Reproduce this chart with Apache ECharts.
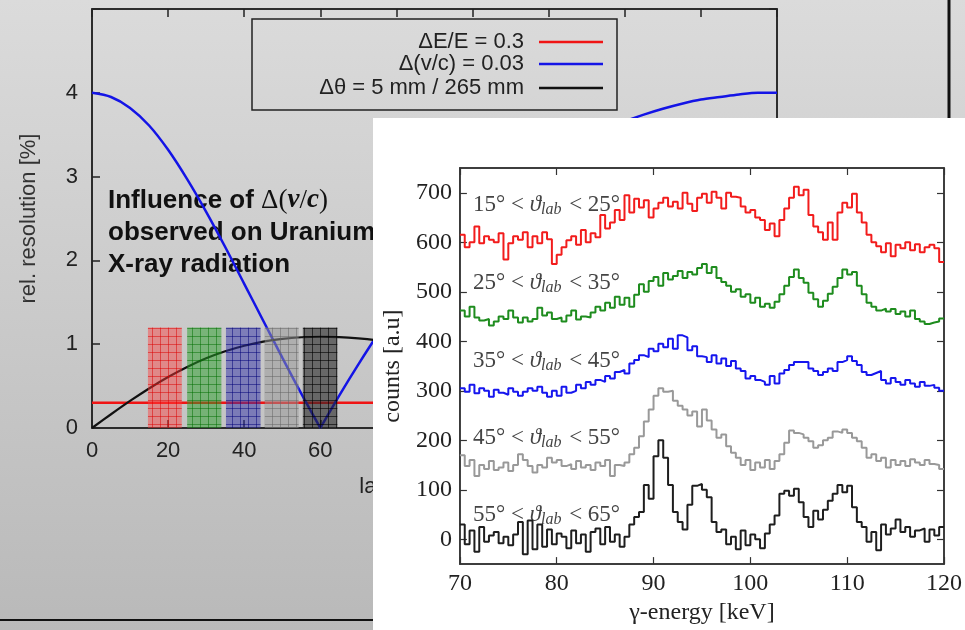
<!DOCTYPE html>
<html>
<head>
<meta charset="utf-8">
<script src="https://cdn.jsdelivr.net/npm/echarts/dist/echarts.min.js"></script>
<style>
    body { margin: 0; }
    #page {
        position: relative;
        width: 965px;
        height: 630px;
        overflow: hidden;
        background: linear-gradient(#dbdbdb, #b9b9b9);
    }
    #ResolutionContainer { position: absolute; left: 0; top: 0; width: 965px; height: 630px; }
    #SpectraContainer { position: absolute; left: 373px; top: 118px; width: 592px; height: 512px; background: #fff; }
</style>
</head>
<body>
<div id="page">
    <div id="ResolutionContainer"></div>
    <div id="SpectraContainer"></div>
</div>
<script>
// ---- resolution vs. lab angle (background plot) ----
var angles = [0, 5, 10, 15, 20, 25, 30, 35, 40, 45, 50, 55, 60, 65, 70, 75, 80, 85, 90,
    95, 100, 105, 110, 115, 120, 125, 130, 135, 140, 145, 150, 155, 160, 165, 170, 175, 180];
var resVelocity = [4.00, 3.95, 3.82, 3.61, 3.32, 2.97, 2.58, 2.16, 1.72, 1.28, 0.84, 0.41, 0.00,
    0.39, 0.76, 1.11, 1.43, 1.73, 2.00, 2.25, 2.48, 2.69, 2.88, 3.05, 3.20, 3.34, 3.46, 3.57,
    3.66, 3.74, 3.81, 3.87, 3.92, 3.95, 3.98, 4.00, 4.00];
var resAngle = [0.000, 0.164, 0.323, 0.472, 0.608, 0.729, 0.832, 0.916, 0.982, 1.031, 1.064, 1.083,
    1.089, 1.084, 1.069, 1.046, 1.017, 0.982, 0.943, 0.900, 0.854, 0.807, 0.757, 0.706, 0.653,
    0.600, 0.547, 0.493, 0.438, 0.384, 0.329, 0.274, 0.219, 0.165, 0.110, 0.055, 0.000];
var resEnergyAngles = [0, 180];
var resEnergy = [0.3, 0.3];
var bandStart = [14.7, 25.0, 35.2, 45.4, 55.4];
var bandEnd = [23.6, 34.0, 44.3, 54.3, 64.5];
var bandTop = [1.2, 1.2, 1.2, 1.2, 1.2];
var resLegend = ['ΔE/E = 0.3', 'Δ(v/c) = 0.03', 'Δθ = 5 mm / 265 mm'];

// ---- gamma spectra (inset) ----
var energyMin = 70;
var binWidth = 0.5;
var angleCuts = ['15° < ', '25° < ', '35° < ', '45° < ', '55° < '];
var angleCutsEnd = [' < 25°', ' < 35°', ' < 45°', ' < 55°', ' < 65°'];
var counts15 = [615, 590, 600, 632, 598, 612, 605, 600, 618, 565, 598, 612, 605, 620, 590, 612, 598, 620, 606, 556,
    575, 590, 604, 612, 595, 625, 600, 618, 610, 655, 628, 640, 665, 645, 695, 660, 688, 670, 685, 650,
    668, 680, 690, 672, 682, 668, 700, 678, 663, 690, 698, 680, 702, 690, 668, 700, 692, 690, 672, 660,
    665, 650, 645, 625, 638, 612, 645, 668, 690, 712, 695, 706, 655, 632, 620, 605, 640, 605, 660, 680,
    670, 698, 660, 640, 615, 600, 592, 580, 598, 572, 595, 588, 600, 584, 596, 580, 590, 595, 588, 560];
var counts25 = [462, 450, 470, 448, 442, 445, 432, 440, 450, 445, 462, 448, 438, 448, 440, 445, 468, 452, 458, 445,
    448, 440, 452, 462, 444, 450, 448, 458, 470, 462, 478, 468, 490, 474, 488, 470, 494, 515, 500, 522,
    530, 512, 538, 525, 532, 542, 528, 540, 535, 548, 556, 538, 550, 528, 520, 512, 500, 505, 490, 495,
    478, 488, 470, 476, 468, 480, 495, 512, 530, 545, 528, 518, 498, 485, 470, 482, 496, 510, 528, 545,
    535, 540, 512, 495, 478, 470, 462, 466, 460, 465, 455, 460, 450, 462, 445, 440, 435, 438, 440, 446];
var counts35 = [305, 298, 312, 295, 305, 300, 288, 302, 296, 292, 305, 298, 290, 298, 305, 300, 308, 296, 288, 300,
    290, 308, 296, 300, 312, 305, 318, 312, 322, 318, 330, 325, 338, 342, 335, 355, 362, 372, 368, 385,
    380, 395, 388, 405, 385, 412, 408, 382, 390, 370, 368, 358, 372, 355, 365, 350, 360, 345, 340, 325,
    330, 322, 318, 312, 330, 315, 335, 342, 352, 358, 358, 358, 345, 340, 332, 338, 345, 340, 358, 362,
    370, 360, 352, 338, 332, 336, 340, 322, 315, 326, 318, 312, 322, 315, 308, 318, 310, 312, 306, 300];
var counts45 = [170, 148, 160, 128, 150, 142, 158, 140, 145, 155, 138, 150, 172, 160, 148, 135, 150, 145, 165, 155,
    160, 148, 152, 142, 158, 145, 150, 140, 155, 148, 160, 128, 150, 148, 155, 172, 185, 208, 238, 262,
    290, 305, 298, 300, 280, 270, 262, 250, 258, 228, 262, 240, 222, 205, 212, 188, 175, 165, 150, 160,
    140, 155, 145, 160, 142, 158, 172, 195, 220, 215, 212, 205, 198, 185, 190, 200, 205, 218, 215, 222,
    215, 205, 198, 185, 165, 172, 158, 165, 145, 160, 150, 158, 148, 162, 155, 150, 160, 152, 150, 142];
var counts55 = [30, -10, 18, -25, 25, -5, 8, 15, -8, 5, -12, 10, 35, -30, 38, -20, 30, -15, 20, -10,
    12, 5, -18, 18, -8, 10, -25, 15, 22, -10, 25, -5, 10, -15, 5, 30, 45, 55, 110, 82,
    168, 200, 165, 110, 55, 35, 20, 70, 108, 112, 100, 85, 35, 15, 20, -10, 5, -20, 18, -12,
    10, 0, -18, 12, 30, 48, 92, 98, 88, 102, 75, 45, 25, 58, 40, 60, 78, 92, 110, 95,
    108, 65, 35, 25, -5, 15, -22, 30, 10, 22, 40, 15, 25, 5, 18, 22, -5, 20, 8, 25];
var yTickValues = [0, 100, 200, 300, 400, 500, 600, 700];


function makeHatch(fill, line) {
    var c = document.createElement('canvas');
    c.width = 8;
    c.height = 8;
    var ctx = c.getContext('2d');
    ctx.fillStyle = fill;
    ctx.fillRect(0, 0, 8, 8);
    ctx.fillStyle = line;
    ctx.fillRect(0, 0, 8, 1);
    ctx.fillRect(0, 0, 1, 8);
    return { image: c, repeat: 'repeat' };
}


function Set_Resolution_echarts() {
    var dom = document.getElementById('ResolutionContainer');
    var myChart_Resolution = echarts.init(dom, null, { renderer: 'canvas' });

    var sansFont = 'Liberation Sans';
    var hatches = [
        makeHatch('rgba(255,60,60,0.45)', 'rgba(220,0,0,0.5)'),
        makeHatch('rgba(40,160,40,0.5)', 'rgba(0,110,0,0.5)'),
        makeHatch('rgba(50,50,170,0.5)', 'rgba(0,0,120,0.5)'),
        makeHatch('rgba(150,150,150,0.5)', 'rgba(100,100,100,0.5)'),
        makeHatch('rgba(40,40,40,0.6)', 'rgba(0,0,0,0.6)')
    ];

    var bands = [];
    for (var i = 0; i < bandStart.length; i++) {
        bands.push([bandStart[i], bandEnd[i], bandTop[i]]);
    }
    function pairs(xs, ys) {
        return xs.map(function (x, k) { return [x, ys[k]]; });
    }
    // the blue curve has a cusp at 60 deg, smooth the two branches separately
    var velocityPairs = pairs(angles, resVelocity);
    var cusp = resVelocity.indexOf(Math.min.apply(null, resVelocity));

    var legendColors = ['#f01414', '#1414e6', '#111'];
    var legendRows = [42, 64, 88];
    var graphics = [
        { type: 'rect', shape: { x: 252, y: 19, width: 365, height: 91 },
          style: { fill: 'none', stroke: '#222', lineWidth: 1.5 } },
        { type: 'text', left: 108, top: 187,
          style: {
              text: '{b|Influence of }{m|Δ(}{mi|v}{m|/}{mi|c}{m|)}\n{b|observed on Uranium}\n{b|X-ray radiation}',
              rich: {
                  b: { fontFamily: sansFont, fontWeight: 'bold', fontSize: 26, lineHeight: 32, fill: '#111' },
                  m: { fontFamily: 'Liberation Serif', fontSize: 27, lineHeight: 32, fill: '#111' },
                  mi: { fontFamily: 'Liberation Serif', fontStyle: 'italic', fontWeight: 'bold', fontSize: 27, lineHeight: 32, fill: '#111' }
              }
          } },
        { type: 'line', shape: { x1: 0, y1: 620, x2: 380, y2: 620 }, style: { stroke: '#111', lineWidth: 2 } },
        { type: 'line', shape: { x1: 949, y1: 0, x2: 949, y2: 130 }, style: { stroke: '#111', lineWidth: 3 } }
    ];
    for (var r = 0; r < resLegend.length; r++) {
        graphics.push({ type: 'text', x: 524, y: legendRows[r],
            style: { text: resLegend[r], font: '22px "Liberation Sans"', fill: '#222',
                     align: 'right', textAlign: 'right', verticalAlign: 'middle', textVerticalAlign: 'middle' } });
        graphics.push({ type: 'line', shape: { x1: 539, y1: legendRows[r], x2: 603, y2: legendRows[r] },
            style: { stroke: legendColors[r], lineWidth: 2.5 } });
    }

    var option = {
        animation: false,
        grid: { left: 92, top: 9, right: 188, bottom: 202, show: true, borderColor: '#222', borderWidth: 1.5 },
        xAxis: [
            {
                type: 'value', min: 0, max: 180, interval: 20,
                name: 'lab. angle [deg]', nameLocation: 'middle', nameGap: 48,
                nameTextStyle: { fontFamily: sansFont, fontSize: 22, color: '#222' },
                axisLine: { onZero: false, lineStyle: { color: '#222', width: 1.5 } },
                axisTick: { inside: true, length: 8, lineStyle: { color: '#222', width: 1.5 } },
                axisLabel: { fontFamily: sansFont, fontSize: 22, color: '#222', margin: 12 },
                splitLine: { show: false }
            },
            {
                type: 'value', min: 0, max: 180, interval: 20, position: 'top',
                axisLine: { onZero: false, lineStyle: { color: '#222', width: 1.5 } },
                axisTick: { inside: true, length: 8, lineStyle: { color: '#222', width: 1.5 } },
                axisLabel: { show: false },
                splitLine: { show: false }
            }
        ],
        yAxis: [
            {
                type: 'value', min: 0, max: 5, interval: 1,
                name: 'rel. resolution [%]', nameLocation: 'middle', nameGap: 52,
                nameTextStyle: { fontFamily: sansFont, fontSize: 22, color: '#333' },
                axisLine: { onZero: false, lineStyle: { color: '#222', width: 1.5 } },
                axisTick: { inside: true, length: 8, lineStyle: { color: '#222', width: 1.5 } },
                axisLabel: {
                    fontFamily: sansFont, fontSize: 22, color: '#222', margin: 14,
                    formatter: function (v) { return v < 5 ? String(v) : ''; }
                },
                splitLine: { show: false }
            },
            {
                type: 'value', min: 0, max: 5, interval: 1, position: 'right',
                axisLine: { onZero: false, lineStyle: { color: '#222', width: 1.5 } },
                axisTick: { inside: true, length: 8, lineStyle: { color: '#222', width: 1.5 } },
                axisLabel: { show: false },
                splitLine: { show: false }
            }
        ],
        graphic: graphics,
        series: [
            {
                name: resLegend[0], type: 'line', symbol: 'none', z: 2,
                lineStyle: { color: legendColors[0], width: 2.5 },
                data: pairs(resEnergyAngles, resEnergy)
            },
            {
                name: resLegend[1], type: 'line', symbol: 'none', z: 2, smooth: 0.3,
                lineStyle: { color: legendColors[1], width: 2.5 },
                data: velocityPairs.slice(0, cusp + 1)
            },
            {
                name: resLegend[1], type: 'line', symbol: 'none', z: 2, smooth: 0.3,
                lineStyle: { color: legendColors[1], width: 2.5 },
                data: velocityPairs.slice(cusp)
            },
            {
                name: resLegend[2], type: 'line', symbol: 'none', z: 2, smooth: 0.3,
                lineStyle: { color: legendColors[2], width: 2.2 },
                data: pairs(angles, resAngle)
            },
            {
                name: 'bands', type: 'custom', z: 5,
                renderItem: function (params, api) {
                    var p0 = api.coord([api.value(0), api.value(2)]);
                    var p1 = api.coord([api.value(1), 0]);
                    return {
                        type: 'rect',
                        shape: { x: p0[0], y: p0[1], width: p1[0] - p0[0], height: p1[1] - p0[1] },
                        style: { fill: hatches[params.dataIndex] }
                    };
                },
                encode: { x: [0, 1], y: 2 },
                data: bands
            }
        ]
    };

    myChart_Resolution.setOption(option);
}


function Set_Spectra_echarts() {
    var dom = document.getElementById('SpectraContainer');
    var myChart_Spectra = echarts.init(dom, null, { renderer: 'canvas' });

    var serifFont = 'Liberation Serif';
    var spectra = [counts15, counts25, counts35, counts45, counts55];
    var colors = ['#f21c1c', '#1e8c1e', '#1616ee', '#999999', '#1e1e1e'];
    var labelTops = [86, 164, 242, 319, 396];

    function histo(values) {
        var out = [];
        for (var i = 0; i < values.length; i++) {
            out.push([energyMin + i * binWidth, values[i]]);
        }
        out.push([energyMin + values.length * binWidth, values[values.length - 1]]);
        return out;
    }

    var series = spectra.map(function (vals, k) {
        return {
            type: 'line', step: 'end', symbol: 'none',
            lineStyle: { color: colors[k], width: 2 },
            data: histo(vals)
        };
    });

    var graphics = angleCuts.map(function (txt, k) {
        return {
            type: 'text', left: 100, top: labelTops[k] - 12,
            style: {
                text: '{n|' + txt + '}{i|ϑ}{s|lab}{n|' + angleCutsEnd[k] + '}',
                rich: {
                    n: { fontFamily: serifFont, fontSize: 23, fill: '#444', lineHeight: 28 },
                    i: { fontFamily: serifFont, fontStyle: 'italic', fontSize: 23, fill: '#444', lineHeight: 28 },
                    s: { fontFamily: serifFont, fontStyle: 'italic', fontSize: 16, fill: '#444', lineHeight: 28, padding: [10, 2, 0, 0] }
                }
            }
        };
    });

    var tickStyle = { inside: true, length: 7, lineStyle: { color: '#333', width: 1.2 } };
    var option = {
        animation: false,
        grid: { left: 79, top: 50, right: 16, bottom: 52, show: true, borderColor: '#333', borderWidth: 1.5 },
        xAxis: [
            {
                type: 'value', min: 70, max: 120, interval: 10,
                name: 'γ-energy [keV]', nameLocation: 'middle', nameGap: 30,
                nameTextStyle: { fontFamily: serifFont, fontSize: 24, color: '#222' },
                axisLine: { onZero: false, lineStyle: { color: '#333', width: 1.5 } },
                axisTick: tickStyle,
                axisLabel: { fontFamily: serifFont, fontSize: 24, color: '#222', margin: 8, showMaxLabel: true },
                splitLine: { show: false }
            },
            {
                type: 'value', min: 70, max: 120, interval: 10, position: 'top',
                axisLine: { onZero: false, lineStyle: { color: '#333', width: 1.5 } },
                axisTick: tickStyle,
                axisLabel: { show: false },
                splitLine: { show: false }
            }
        ],
        yAxis: [
            {
                type: 'value', min: -50, max: 750,
                name: 'counts [a.u]', nameLocation: 'middle', nameGap: 50,
                nameTextStyle: { fontFamily: serifFont, fontSize: 24, color: '#222' },
                axisLine: { onZero: false, lineStyle: { color: '#333', width: 1.5 } },
                axisTick: { inside: true, length: 7, lineStyle: { color: '#333', width: 1.2 }, customValues: yTickValues },
                axisLabel: { fontFamily: serifFont, fontSize: 24, color: '#222', margin: 8, customValues: yTickValues },
                splitLine: { show: false }
            },
            {
                type: 'value', min: -50, max: 750, position: 'right',
                axisLine: { onZero: false, lineStyle: { color: '#333', width: 1.5 } },
                axisTick: { inside: true, length: 7, lineStyle: { color: '#333', width: 1.2 }, customValues: yTickValues },
                axisLabel: { show: false },
                splitLine: { show: false }
            }
        ],
        graphic: graphics,
        series: series
    };

    myChart_Spectra.setOption(option);
}

Set_Resolution_echarts();
Set_Spectra_echarts();
</script>
</body>
</html>
